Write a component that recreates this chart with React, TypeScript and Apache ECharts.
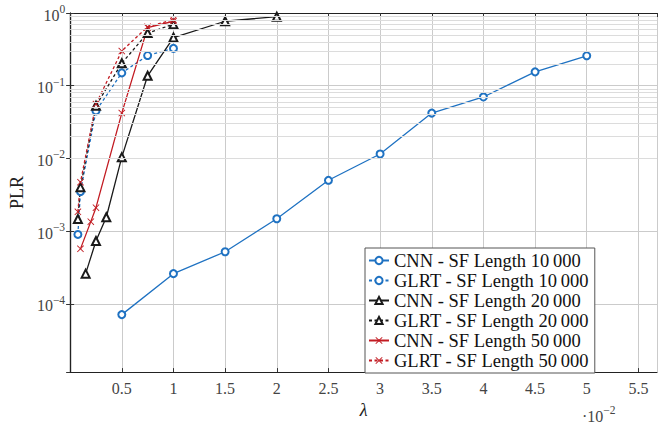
import React, { useEffect, useRef } from "react";
import * as echarts from "echarts";

// lambda values (×10^-2) and PLR values
const xCnn10 = [0.5, 1, 1.5, 2, 2.5, 3, 3.5, 4, 4.5, 5];
const yCnn10 = [7.1e-5, 2.6e-4, 5.2e-4, 1.48e-3, 5.0e-3, 1.15e-2, 4.2e-2, 7.0e-2, 0.155, 0.258];

const xGlrt10 = [0.075, 0.1, 0.25, 0.5, 0.75, 1];
const yGlrt10 = [9.0e-4, 3.5e-3, 4.5e-2, 0.15, 0.26, 0.326];

const xCnn20 = [0.15, 0.25, 0.35, 0.5, 0.75, 1, 1.5, 2];
const yCnn20 = [2.6e-4, 7.3e-4, 1.55e-3, 1.04e-2, 0.137, 0.46, 0.77, 0.89];

const xGlrt20 = [0.075, 0.1, 0.25, 0.5, 0.75, 1];
const yGlrt20 = [1.47e-3, 4.0e-3, 5.3e-2, 0.204, 0.53, 0.7];

const xCnn50 = [0.1, 0.2, 0.25, 0.5, 0.75, 1];
const yCnn50 = [5.7e-4, 1.35e-3, 2.1e-3, 4.2e-2, 0.63, 0.77];

const xGlrt50 = [0.075, 0.1, 0.25, 0.5, 0.75, 1];
const yGlrt50 = [1.84e-3, 4.7e-3, 5.6e-2, 0.3, 0.645, 0.81];

const seriesNames = [
  "CNN - SF Length 10\u2009000",
  "GLRT - SF Length 10\u2009000",
  "CNN - SF Length 20\u2009000",
  "GLRT - SF Length 20\u2009000",
  "CNN - SF Length 50\u2009000",
  "GLRT - SF Length 50\u2009000",
];

const X_MIN = 0;
const X_MAX = 5.68;
const Y_MIN = 1.15e-5;
const Y_MAX = 1;

const FONT = "Liberation Serif, Times New Roman, serif";
const BLUE = "#1f72c2";
const BLACK = "#1a1a1a";
const RED = "#c21b22";
const CROSS = "path://M0,0.9L0.9,0L5,4.1L9.1,0L10,0.9L5.9,5L10,9.1L9.1,10L5,5.9L0.9,10L0,9.1L4.1,5Z";

function zip(xs: number[], ys: number[]) {
  return xs.map((x, i) => [x, ys[i]]);
}

export default function App() {
  const ref = useRef<HTMLDivElement>(null);
  useEffect(() => {
    const chart = echarts.init(ref.current!, null, { renderer: "svg" });

    // minor log grid positions (2..9 × 10^k)
    const minorY: number[] = [];
    for (let k = -5; k <= -1; k++) {
      for (let m = 2; m <= 9; m++) {
        const v = m * Math.pow(10, k);
        if (v > Y_MIN && v < Y_MAX) minorY.push(v);
      }
    }

    const mk = (
      name: string,
      xs: number[],
      ys: number[],
      color: string,
      dashed: boolean,
      symbol: string,
      size: number,
      border: number
    ) => ({
      name,
      type: "line",
      data: zip(xs, ys),
      xAxisIndex: 0,
      yAxisIndex: 0,
      symbol,
      symbolSize: size,
      showAllSymbol: true,
      z: 3,
      lineStyle: { color, width: 1.3, type: dashed ? [3, 2.5] : "solid" },
      itemStyle: { color, borderColor: color, borderWidth: border },
      emphasis: { disabled: true },
    });

    const labelFmt = (v: number) => {
      const e = Math.round(Math.log10(v));
      return `{b|10}{s|${e === 0 ? "0" : "\u2212" + -e}}`;
    };

    const option: any = {
      animation: false,
      backgroundColor: "#ffffff",
      textStyle: { fontFamily: FONT },
      grid: { left: 70, right: 2, top: 13, bottom: 38, containLabel: false },
      legend: {
        orient: "vertical",
        left: 365,
        top: 248,
        data: seriesNames,
        backgroundColor: "#ffffff",
        borderColor: "#555555",
        borderWidth: 1,
        borderRadius: 0,
        padding: [3, 6, 3, 3],
        itemGap: 1,
        itemWidth: 20,
        itemHeight: 9,
        textStyle: {
          fontFamily: FONT,
          fontSize: 18.5,
          color: "#111111",
          lineHeight: 17.5,
        },
        selectedMode: false,
      },
      xAxis: [
        {
          type: "value",
          min: X_MIN,
          max: X_MAX,
          interval: 0.5,
          name: "\u03bb",
          nameLocation: "middle",
          nameGap: 22,
          nameTextStyle: {
            fontFamily: FONT,
            fontStyle: "italic",
            fontSize: 18,
            color: "#222",
          },
          axisLine: { show: true, onZero: false, lineStyle: { color: "#222", width: 1.2 } },
          axisTick: { show: true, inside: true, length: 4, lineStyle: { color: "#333" } },
          axisLabel: {
            showMinLabel: false,
            showMaxLabel: false,
            fontFamily: FONT,
            fontSize: 16,
            color: "#444",
            margin: 8,
          },
          splitLine: { show: true, lineStyle: { color: "#cbcbcb", width: 1 } },
        },
        {
          type: "value",
          position: "top",
          min: X_MIN,
          max: X_MAX,
          interval: 0.5,
          axisLine: { show: true, onZero: false, lineStyle: { color: "#222", width: 1.2 } },
          axisTick: { show: true, inside: true, length: 4, lineStyle: { color: "#333" } },
          axisLabel: { show: false },
          splitLine: { show: false },
        },
      ],
      yAxis: [
        {
          type: "log",
          logBase: 10,
          min: Y_MIN,
          max: Y_MAX,
          name: "PLR",
          nameLocation: "middle",
          nameGap: 39,
          nameTextStyle: { fontFamily: FONT, fontSize: 18, color: "#222" },
          axisLine: { show: true, lineStyle: { color: "#222", width: 1.2 } },
          axisTick: { show: true, inside: true, length: 4, lineStyle: { color: "#333" } },
          axisLabel: {
            showMinLabel: false,
            formatter: labelFmt,
            margin: 5,
            fontFamily: FONT,
            rich: {
              b: { fontFamily: FONT, fontSize: 16, color: "#444", verticalAlign: "bottom", lineHeight: 20 },
              s: { fontFamily: FONT, fontSize: 11.5, color: "#444", verticalAlign: "top", lineHeight: 12 },
            },
          },
          splitLine: { show: true, lineStyle: { color: "#cbcbcb", width: 1 } },
        },
        {
          type: "log",
          logBase: 10,
          position: "right",
          min: Y_MIN,
          max: Y_MAX,
          axisLine: { show: true, lineStyle: { color: "#222", width: 1.2 } },
          axisTick: { show: true, inside: true, length: 4, lineStyle: { color: "#333" } },
          axisLabel: { show: false },
          splitLine: { show: false },
        },
      ],
      graphic: [
        {
          type: "text",
          x: 582,
          y: 404,
          silent: true,
          style: {
            text: "{a|\u00b710}{s|\u22122}",
            fontFamily: FONT,
            rich: {
              a: { fontFamily: FONT, fontSize: 16, fill: "#444", verticalAlign: "bottom", lineHeight: 20 },
              s: { fontFamily: FONT, fontSize: 11.5, fill: "#444", verticalAlign: "top", lineHeight: 12 },
            },
          },
        },
      ],
      series: [
        {
          name: "minor-grid",
          type: "line",
          data: [],
          z: 1,
          silent: true,
          markLine: {
            silent: true,
            symbol: ["none", "none"],
            label: { show: false },
            emphasis: { disabled: true },
            lineStyle: { color: "#dcdcdc", width: 1, type: "solid" },
            data: minorY.map((v) => ({ yAxis: v })),
          },
        },
        mk(seriesNames[0], xCnn10, yCnn10, BLUE, false, "emptyCircle", 7, 1.2),
        mk(seriesNames[1], xGlrt10, yGlrt10, BLUE, true, "emptyCircle", 7, 1.2),
        mk(seriesNames[2], xCnn20, yCnn20, BLACK, false, "emptyTriangle", 8, 1.2),
        mk(seriesNames[3], xGlrt20, yGlrt20, BLACK, true, "emptyTriangle", 8, 1.2),
        mk(seriesNames[4], xCnn50, yCnn50, RED, false, CROSS, 7, 0),
        mk(seriesNames[5], xGlrt50, yGlrt50, RED, true, CROSS, 7, 0),
      ],
    };

    chart.setOption(option);
    return () => chart.dispose();
  }, []);
  return (
    <div
      ref={ref}
      style={{ position: "absolute", left: 0, top: 0, width: 659, height: 424 }}
    />
  );
}
